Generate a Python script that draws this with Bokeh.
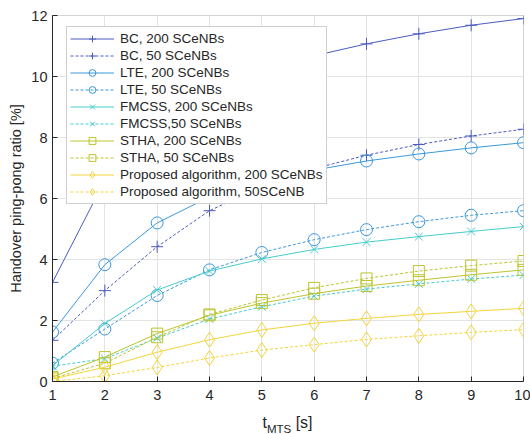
from bokeh.plotting import figure
from bokeh.models import Range1d, Legend, FixedTicker, Div
from bokeh.layouts import column
from bokeh.embed import file_html
from bokeh.resources import INLINE

x = [1, 2, 3, 4, 5, 6, 7, 8, 9, 10]
bc_200 = [3.25, 6.6, 8.3, 9.3, 10.1, 10.68, 11.07, 11.4, 11.68, 11.9]
bc_50 = [1.35, 2.98, 4.42, 5.6, 6.4, 6.98, 7.42, 7.77, 8.05, 8.27]
lte_200 = [1.62, 3.83, 5.2, 6.05, 6.55, 6.93, 7.23, 7.46, 7.66, 7.83]
lte_50 = [0.6, 1.72, 2.82, 3.66, 4.23, 4.65, 4.98, 5.24, 5.45, 5.6]
fmcss_200 = [0.52, 1.9, 3.0, 3.62, 4.02, 4.33, 4.57, 4.75, 4.92, 5.08]
fmcss_50 = [0.5, 0.75, 1.42, 2.05, 2.45, 2.8, 3.03, 3.2, 3.36, 3.49]
stha_200 = [0.15, 0.8, 1.57, 2.17, 2.57, 2.88, 3.13, 3.32, 3.5, 3.66]
stha_50 = [0.1, 0.6, 1.45, 2.2, 2.67, 3.07, 3.38, 3.62, 3.8, 3.95]
prop_200 = [0.08, 0.47, 0.96, 1.37, 1.69, 1.91, 2.07, 2.2, 2.3, 2.4]
prop_50 = [0.0, 0.19, 0.46, 0.77, 1.03, 1.21, 1.38, 1.5, 1.61, 1.7]

x_ticks = [1, 2, 3, 4, 5, 6, 7, 8, 9, 10]
y_ticks = [0, 2, 4, 6, 8, 10, 12]

series = [
    ("BC, 200 SCeNBs", bc_200, "#4a5cbf", "solid", "cross"),
    ("BC, 50 SCeNBs", bc_50, "#4a5cbf", "3 2", "cross"),
    ("LTE, 200 SCeNBs", lte_200, "#3a98dc", "solid", "circle"),
    ("LTE, 50 SCeNBs", lte_50, "#3a98dc", "3 2", "circle"),
    ("FMCSS, 200 SCeNBs", fmcss_200, "#45cccc", "solid", "x"),
    ("FMCSS,50 SCeNBs", fmcss_50, "#45cccc", "3 2", "x"),
    ("STHA, 200 SCeNBs", stha_200, "#bcc42c", "solid", "square"),
    ("STHA, 50 SCeNBs", stha_50, "#bcc42c", "3 2", "square"),
    ("Proposed algorithm, 200 SCeNBs", prop_200, "#f3d43a", "solid", "diamond"),
    ("Proposed algorithm, 50SCeNB", prop_50, "#f3d43a", "3 2", "diamond"),
]
marker_sizes = {"circle": 12, "cross": 12, "x": 11, "square": 11, "diamond": 15}

FONT = "Liberation Sans"
TXT = "#262626"

p = figure(width=530, height=406, output_backend="svg", toolbar_location=None,
           x_range=Range1d(1, 10), y_range=Range1d(0, 12),
           min_border_left=52, min_border_right=7, min_border_top=15, min_border_bottom=25)
p.outline_line_color = "#d4d4d4"
p.background_fill_color = "white"
p.border_fill_color = "white"

items = []
for name, ys, col, dash, mk in series:
    r1 = p.line(x, ys, line_color=col, line_width=1, line_dash=dash)
    r2 = p.scatter(x, ys, marker=mk, size=marker_sizes[mk], line_color=col,
                   fill_color=None, line_width=1)
    items.append((name, [r1, r2]))

legend = Legend(items=items, location=(14, 177))
legend.label_text_font = FONT
legend.label_text_font_size = "13.5px"
legend.label_text_color = TXT
legend.label_height = 17
legend.glyph_height = 17
legend.glyph_width = 44
legend.spacing = 0
legend.padding = 3
legend.margin = 0
legend.label_standoff = 6
legend.border_line_color = "#a0a0a0"
legend.border_line_width = 1
legend.background_fill_alpha = 1
p.add_layout(legend, "center")

for ax in (p.xaxis[0], p.yaxis[0]):
    ax.axis_line_color = TXT
    ax.major_tick_line_color = TXT
    ax.major_tick_in = 5
    ax.major_tick_out = 0
    ax.minor_tick_line_color = None
    ax.major_label_text_font = FONT
    ax.major_label_text_font_size = "14.5px"
    ax.major_label_text_color = TXT

p.xaxis[0].ticker = FixedTicker(ticks=x_ticks)
p.yaxis[0].ticker = FixedTicker(ticks=y_ticks)
p.xaxis[0].major_label_standoff = 8
p.yaxis[0].major_label_standoff = 5

p.yaxis[0].axis_label = "Handover ping-pong ratio [%]"
p.yaxis[0].axis_label_text_font = FONT
p.yaxis[0].axis_label_text_font_size = "14.5px"
p.yaxis[0].axis_label_text_font_style = "normal"
p.yaxis[0].axis_label_text_color = TXT
p.yaxis[0].axis_label_standoff = 4

p.xgrid.ticker = FixedTicker(ticks=x_ticks)
p.ygrid.ticker = FixedTicker(ticks=y_ticks)
p.xgrid.grid_line_color = "#e3e3e3"
p.ygrid.grid_line_color = "#e3e3e3"

xlabel = Div(
    text='t<span style="font-size:11.5px; position:relative; top:5px;">MTS</span> [s]',
    width=471, height=28, margin=(0, 0, 0, 52),
    styles={"font-family": FONT, "font-size": "16px", "color": TXT,
            "text-align": "center", "line-height": "17px", "padding-top": "8px",
            "box-sizing": "border-box"},
)

layout = column(p, xlabel, spacing=0)

open("out.html", "w").write(file_html(layout, INLINE))
